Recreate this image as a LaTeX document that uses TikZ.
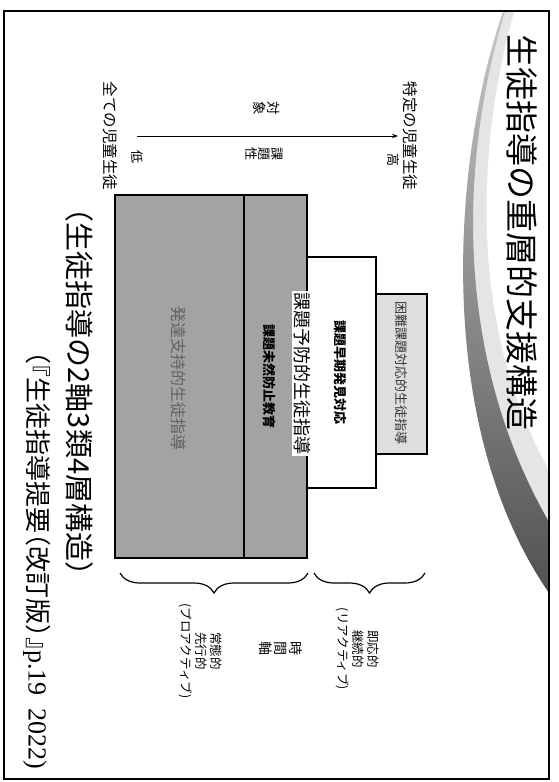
\documentclass[tikz,border=0pt]{standalone}
\usepackage{fontspec}
\setmainfont{Noto Sans CJK JP}
\newfontfamily\jphalt[RawFeature=+halt]{Noto Sans CJK JP}
\newfontfamily\numfont{Liberation Serif}
\usetikzlibrary{arrows.meta,decorations.pathreplacing}
\newcommand\jpsize[2][]{\fontsize{#2}{#2}\selectfont}
\begin{document}
\begin{tikzpicture}[x=1pt,y=-1pt,
  rot/.style={rotate=-90, inner sep=0pt},
  layer/.style={draw=black, line width=1.3pt},
  bracestyle/.style={draw=black, line width=1.2pt, decorate, decoration={brace, amplitude=20pt}},
  axisarrow/.style={line width=1pt, -{Stealth[length=6pt,width=4.5pt]}}]
\useasboundingbox (0,0) rectangle (558,782);
% title swoosh
\fill[black!10] (503,12) .. controls (455,150) and (430,420) .. (549,593)
  -- (549,470) .. controls (470,330) and (475,150) .. (514,12) -- cycle;
\shade[top color=black!22, bottom color=black!68] (503,12) .. controls (455,150) and (430,420) .. (549,593)
  -- (549,522) .. controls (450,350) and (462,150) .. (505,12) -- cycle;
% frame
\draw[line width=1.5pt] (4,11) rectangle (549,779);
% title
\node[rot, font=\jpsize{33}] (title) at (522,232) {生徒指導の重層的支援構造};
% axis
\coordinate (lo) at (137,136);
\coordinate (hi) at (398,136);
\draw[axisarrow] (lo) -- (hi);
\node[rot, font=\jpsize{15.5}] (all) at (110,136) {全ての児童生徒};
\node[rot, font=\jpsize{15.5}] (spec) at (410,136) {特定の児童生徒};
\node[rot, font=\jpsize{13}] (low) at (137,157) {低};
\node[rot, font=\jpsize{13}] (high) at (393,160) {高};
\node[rot, font=\fontsize{13.5}{14}\selectfont, align=center] (target) at (267,108) {対\\象};
\node[rot, font=\fontsize{13}{13}\selectfont, align=center] (issue) at (264,154) {課\\題\\性};
% layers
\draw[layer, fill=black!36] (115,195) rectangle (244,558);
\draw[layer, fill=black!36] (244,195) rectangle (307,558);
\draw[layer, fill=white] (307,257) rectangle (376,488);
\draw[layer, fill=black!13] (376,294) rectangle (427,454);
\node[rot, font=\jpsize{16}, text=black!62] (dev) at (179,378) {発達支持的生徒指導};
\node[rot, font=\jpsize{13}\bfseries] (prev) at (269,376) {課題未然防止教育};
\node[rot, font=\jpsize{18}, fill=white, inner sep=1.5pt] (prevg) at (302,373) {課題予防的生徒指導};
\node[rot, font=\jpsize{13}\bfseries] (early) at (340,372) {課題早期発見対応};
\node[rot, font=\jpsize{13}, text=black!80] (diff) at (401,373) {困難課題対応的生徒指導};
% braces
\coordinate (b1r) at (308,573);
\coordinate (b1l) at (120,573);
\coordinate (b2r) at (425,573);
\coordinate (b2l) at (314,573);
\draw[bracestyle] (b1r) -- (b1l);
\draw[bracestyle] (b2r) -- (b2l);
% time axis labels
\node[rot, font=\fontsize{12.5}{15}\selectfont, align=center] (react) at (358,649) {即応的\\継続的\\(リアクティブ)};
\node[rot, font=\fontsize{14}{15}\selectfont, align=center] (time) at (281,648) {時\\間\\軸};
\node[rot, font=\fontsize{12.5}{15}\selectfont, align=center] (pro) at (201,651) {常態的\\先行的\\(プロアクティブ)};
% captions
\node[rot, font=\jpsize{29}] (sub) at (80,392) {（生徒指導の2軸3類4層構造）};
\node[rot, anchor=west, font=\jphalt\jpsize{26}] (cite) at (37,351) {（『生徒指導提要（改訂版）』{\numfont p.19\ \ 2022)}};
\end{tikzpicture}
\end{document}
